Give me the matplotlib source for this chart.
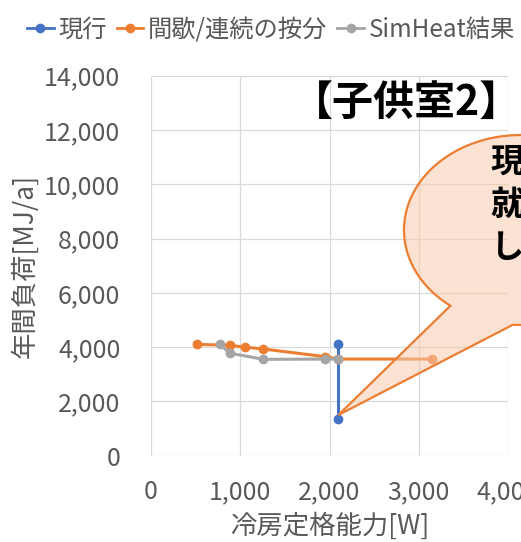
import matplotlib

matplotlib.use("Agg")
import matplotlib.pyplot as plt
import numpy as np
from matplotlib.lines import Line2D
from matplotlib.patches import Polygon

plt.rcParams["font.family"] = ["Noto Sans CJK JP", "DejaVu Sans"]

# cooling capacity [W] vs annual load [MJ/a]
current_x = [2100, 2100]
current_y = [4100, 1350]

prorated_x = [520, 880, 1050, 1260, 1950, 2100, 3150]
prorated_y = [4100, 4070, 4000, 3930, 3650, 3560, 3560]

simheat_x = [770, 880, 1260, 1950, 2100]
simheat_y = [4100, 3780, 3550, 3560, 3560]

series_labels = ["現行", "間歇/連続の按分", "SimHeat結果"]
x_ticks = [0, 1000, 2000, 3000, 4000]
x_tick_labels = ["0", "1,000", "2,000", "3,000", "4,000"]
y_ticks = [0, 2000, 4000, 6000, 8000, 10000, 12000, 14000]
y_tick_labels = ["0", "2,000", "4,000", "6,000", "8,000", "10,000", "12,000", "14,000"]

BLUE = "#4472C4"
ORANGE = "#ED7D31"
GRAY = "#A5A5A5"
TEXT = "#595959"
GRID = "#D9D9D9"

W, H = 521, 542


def px(x, y):
    """pixel position (y counted from the top) -> figure fraction"""
    return x / W, 1 - y / H


fig = plt.figure(figsize=(W / 100, H / 100), dpi=100)
ax = fig.add_axes([151 / W, (H - 455.7) / H, 357 / W, 380 / H])

line_kw = dict(lw=2.2, marker="o", markersize=6, clip_on=False)
ax.plot(current_x, current_y, color=BLUE, zorder=3, **line_kw)
ax.plot(prorated_x, prorated_y, color=ORANGE, zorder=4, **line_kw)
ax.plot(simheat_x, simheat_y, color=GRAY, zorder=5, **line_kw)

ax.set_xlim(0, 4000)
ax.set_ylim(0, 14000)
ax.set_xticks(x_ticks)
ax.set_xticklabels(x_tick_labels)
ax.set_yticks(y_ticks)
ax.set_yticklabels(y_tick_labels)
ax.tick_params(length=0, labelsize=18, labelcolor=TEXT)
ax.tick_params(axis="x", pad=17)
ax.tick_params(axis="y", pad=22)
ax.grid(True, color=GRID, lw=0.9)
ax.set_axisbelow(True)
for spine in ax.spines.values():
    spine.set_visible(False)

ax.set_xlabel("冷房定格能力[W]", fontsize=19, color=TEXT, labelpad=5)
ax.set_ylabel("年間負荷[MJ/a]", fontsize=19, color=TEXT, labelpad=4)

handles = [
    Line2D([], [], color=c, lw=2.0, marker="o", markersize=6)
    for c in (BLUE, ORANGE, GRAY)
]
fig.legend(
    handles,
    series_labels,
    loc="center",
    bbox_to_anchor=px(271, 30),
    ncol=3,
    frameon=False,
    fontsize=17.5,
    labelcolor=TEXT,
    handlelength=1.1,
    handletextpad=0.2,
    columnspacing=0.4,
    borderaxespad=0,
)

fig.text(
    *px(407, 103),
    "【子供室2】",
    ha="center",
    va="center",
    fontsize=29.5,
    fontweight="bold",
    color="black",
    zorder=6,
)

# wedge-ellipse callout pointing at the current unit
cx, cy, a, b = 521, 230, 117, 95
t_left = np.arctan2((303 - cy) / b, (453 - cx) / a)
t_right = np.deg2rad(94) + 2 * np.pi
t = np.linspace(t_left, t_right, 200)
ring = np.column_stack([cx + a * np.cos(t), cy + b * np.sin(t)])
tip_disp = ax.transData.transform((2100, 1500))
tip_fig = fig.transFigure.inverted().transform(tip_disp)
pts = [px(x, y) for x, y in ring] + [tuple(tip_fig)]
callout = Polygon(
    pts,
    closed=True,
    transform=fig.transFigure,
    facecolor=(248 / 255, 203 / 255, 173 / 255, 0.55),
    edgecolor=ORANGE,
    lw=1.6,
    zorder=7,
)
fig.add_artist(callout)

fig.text(
    *px(490, 146),
    "現\n就\nし",
    ha="left",
    va="top",
    fontsize=24,
    fontweight="bold",
    color="black",
    linespacing=1.38,
    zorder=8,
)

fig.savefig("out.png", dpi=100)
